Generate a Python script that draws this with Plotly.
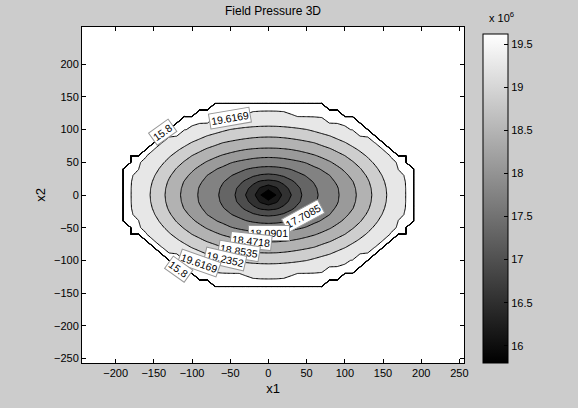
import numpy as np
import plotly.graph_objects as go

# ---------------- data (pressure, units of 1e6) ----------------
levels = [15.8, 16.1817, 16.5634, 16.9451, 17.3268, 17.7085,
          18.0901, 18.4718, 18.8535, 19.2352, 19.6169]
center_value = 15.8          # minimum at the well (x1=0, x2=0)
rim_value = 19.64            # highest pressure just inside the outer edge
# half widths of each closed contour ring (levels[1:]) along x1 and along x2
ring_half_x1 = [10, 17, 30, 44, 66, 94, 116, 136, 155, 177]
ring_half_x2 = [9, 15, 24, 32, 44, 58, 72, 89, 106, 122]
rim_half_x1 = 200
rim_half_x2 = 150
# outline of the simulated region: half width in x1 for each |x2| row
outline_x2 = [0, 10, 20, 30, 40, 50, 60, 70, 80, 90, 100, 110, 120, 130, 140]
outline_half_x1 = [190, 190, 190, 190, 190, 180, 180, 168, 158, 146, 134, 122, 110, 90, 70]
# ticks
cbar_ticks = [16, 16.5, 17, 17.5, 18, 18.5, 19, 19.5]
x1_ticks = [-200, -150, -100, -50, 0, 50, 100, 150, 200, 250]
x2_ticks = [-250, -200, -150, -100, -50, 0, 50, 100, 150, 200]
# contour labels: (level index, where: 'ring' or 'outline', direction in degrees)
label_specs = [(0, 'outline', 145), (10, 'ring', 113),
               (5, 'ring', -35), (6, 'ring', -89), (7, 'ring', -108),
               (8, 'ring', -114), (9, 'ring', -120), (10, 'ring', -131),
               (0, 'outline', -136)]

# ---------------- grid table built from the arrays above ----------------
x1_grid = np.arange(-200, 201, 10)
x2_grid = np.arange(-150, 151, 10)
X, Y = np.meshgrid(x1_grid, x2_grid)

ring_vals = [center_value] + levels[1:] + [rim_value]
ax_all = ring_half_x1 + [rim_half_x1]
ay_all = ring_half_x2 + [rim_half_x2]
rho = [np.sqrt((X / a) ** 2 + (Y / b) ** 2) for a, b in zip(ax_all, ay_all)]

z = np.full(X.shape, rim_value, dtype=float)
with np.errstate(divide='ignore', invalid='ignore'):
    for k in reversed(range(len(rho))):
        inside = rho[k] <= 1.0
        if k == 0:
            frac = rho[0]
        else:
            rp = rho[k - 1]
            frac = (rp - 1.0) / (rp - rho[k])
        zk = ring_vals[k] + frac * (ring_vals[k + 1] - ring_vals[k])
        z = np.where(inside, zk, z)

half = {int(a): b for a, b in zip(outline_x2, outline_half_x1)}
in_region = np.array([[abs(int(x)) <= half.get(abs(int(y)), -1) for x in x1_grid]
                      for y in x2_grid])
# like MATLAB's contourf, the outside is padded with a very low value
z_fill = np.where(in_region, z, -1.0e4)

# ---------------- colours (MATLAB gray colormap, 64 steps) ----------------
def gray(i):
    v = int(round(min(np.floor(6.4 * i), 63) / 63 * 255))
    return f'rgb({v},{v},{v})'

n_lev = len(levels)
# plotly colours the band above level i with scale position (i+1)/n_lev,
# and the area below the first level (outside the field) with position 0
fill_scale = [[0.0, 'rgb(255,255,255)']]
for i in range(n_lev):
    fill_scale.append([(i + 1) / n_lev, gray(i)])
fill_scale[-1][0] = 1.0
step = (levels[-1] - levels[0]) / (n_lev - 1)

fig = go.Figure()
fig.add_trace(go.Contour(
    x=x1_grid, y=x2_grid, z=z_fill,
    contours=dict(start=levels[0], end=levels[-1] + 0.003, size=step,
                  coloring='fill', showlabels=False),
    colorscale=fill_scale, showscale=False,
    line=dict(color='black', width=1, smoothing=0),
    hoverinfo='skip'))

# continuous colour bar
fig.add_trace(go.Scatter(
    x=[0], y=[0], mode='markers', hoverinfo='skip', showlegend=False,
    marker=dict(size=1, opacity=0, color=[levels[0]], cmin=levels[0], cmax=levels[-1],
                colorscale=[[0, 'black'], [1, 'white']], showscale=True,
                colorbar=dict(thickness=25, thicknessmode='pixels',
                              len=329, lenmode='pixels',
                              x=1.0497, xanchor='left', xpad=0,
                              y=0, yanchor='bottom', ypad=0,
                              outlinewidth=1, outlinecolor='black',
                              ticks='inside', ticklen=4, tickcolor='black',
                              tickvals=cbar_ticks,
                              ticktext=[f'{t:g}' for t in cbar_ticks],
                              tickfont=dict(size=11, color='black')))))

# ---------------- contour labels placed on the data rings ----------------
PX = 382 / 500.0
PY = 336 / 514.0


def outline_hw(y):
    return np.interp(abs(y), outline_x2, outline_half_x1, right=-1)


annotations = []
for idx, where, th in label_specs:
    c, s = np.cos(np.radians(th)), np.sin(np.radians(th))
    if where == 'ring':
        a, b = ring_half_x1[idx - 1], ring_half_x2[idx - 1]
        r = 1.0 / np.sqrt((c / a) ** 2 + (s / b) ** 2)
        px, py = r * c, r * s
        tx, ty = -py / b ** 2, px / a ** 2
    else:
        t = 0.0
        while abs(t * c) <= outline_hw(t * s) and t < 300:
            t += 0.5
        px, py = t * c, t * s
        sg = np.sign(px)
        x_a = sg * outline_hw(py + 5 * np.sign(py))
        x_b = sg * outline_hw(py - 5 * np.sign(py))
        tx, ty = (x_a - x_b), 10 * np.sign(py)
    ang = float(np.degrees(np.arctan2(-ty * PY, tx * PX)))
    if ang > 90:
        ang -= 180
    if ang < -90:
        ang += 180
    annotations.append(dict(x=float(px), y=float(py), xref='x', yref='y',
                            text=f'{levels[idx]:g}',
                            showarrow=False, textangle=ang, bgcolor='white',
                            bordercolor='rgb(150,150,150)', borderwidth=1, borderpad=1,
                            font=dict(size=10.5, color='black')))

annotations.append(dict(x=1.097, y=1.03, xref='paper', yref='paper',
                        text='x 10<sup>6</sup>', showarrow=False,
                        font=dict(size=11, color='black'), xanchor='center', yanchor='middle'))

axis_common = dict(showgrid=False, zeroline=False, showline=True, linecolor='black',
                   linewidth=1, mirror='ticks', ticks='inside', ticklen=4,
                   tickcolor='black', tickfont=dict(size=11, color='black'))

fig.update_layout(
    width=578, height=408,
    margin=dict(l=82, r=114, t=27, b=45),
    paper_bgcolor='rgb(204,204,204)', plot_bgcolor='white',
    font=dict(family='Liberation Sans, Arial, sans-serif', size=11, color='black'),
    showlegend=False,
    title=dict(text='Field Pressure 3D', x=0.5, xref='paper', xanchor='center',
               y=1 - 11 / 408, yref='container', yanchor='middle',
               font=dict(size=12, color='black')),
    xaxis=dict(range=[-244, 256], tickvals=x1_ticks, title=dict(text='x1', standoff=5),
               **axis_common),
    yaxis=dict(range=[-257, 257], tickvals=x2_ticks, title=dict(text='x2', standoff=5),
               **axis_common),
    annotations=annotations)

fig.write_html('out.html',
               config={'displayModeBar': False},
               post_script="document.body.style.margin='0px';"
                           "document.body.style.padding='0px';"
                           "document.body.style.background='rgb(204,204,204)';")
